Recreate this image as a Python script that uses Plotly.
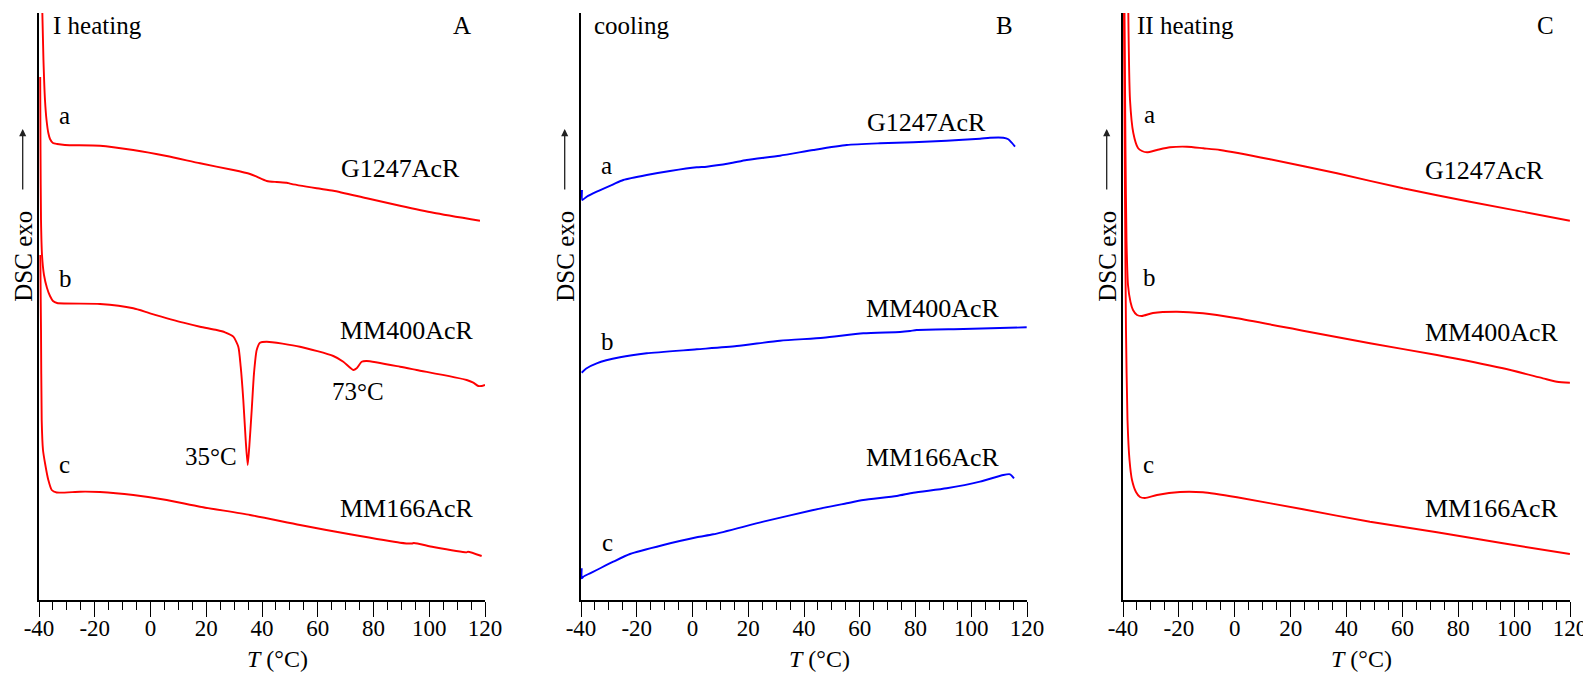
import plotly.graph_objects as go

# ---------------- data (T in °C, DSC signal in arbitrary units) ----------------
# Panel A - I heating
A_a_T = [-38.8, -38.4, -37.85, -37.3, -36.65, -36.05, -35.0, -33.5, -30.7, -18.1, -6.2, 5.8, 17.8,
         29.7, 35.7, 38.1, 41.7, 45.3, 48.9, 50.0, 59.6, 65.6, 77.6, 89.5, 101.5, 118.2]
A_a_y = [587, 540, 500, 480, 467, 461, 457, 456, 455, 454.3, 450, 444, 436.7,
         430, 426, 423.3, 419, 418, 417.3, 416.3, 411.7, 409.3, 401.7, 394.3, 387.3, 379.3]

A_b_T = [-39.57, -39.46, -39.28, -38.92, -38.21, -37.13, -36.05, -34.98, -33.54, -18.12, -6.17, -0.18,
         11.77, 17.76, 23.75, 26.73, 29.71, 31.5, 32.36, 33.29, 34.15, 34.87, 35.44, 36.31, 37.13,
         38.1, 39.28, 41.69, 53.63, 65.58, 69.17, 72.75, 73.97, 75.76, 77.56, 89.51, 95.49, 113.44,
         115.8, 117.6, 118.8, 120.0]
A_b_y = [523, 450, 380, 345, 325, 312, 304, 299, 297, 296, 291.7, 286.7,
         277.3, 273.3, 270, 267.7, 263.3, 253.3, 233.3, 200, 160, 135, 153.3, 190, 226.7,
         250, 257.3, 258.3, 253.3, 244, 238.3, 230, 231.7, 238.3, 239, 233.3, 230, 220,
         217.3, 214, 214, 215]

A_c_T = [-39.53, -39.28, -39.03, -38.57, -37.85, -36.66, -35.44, -33.65, -25.29, -18.12, -6.17, 5.81,
         17.76, 35.7, 53.63, 71.57, 89.51, 93.8, 94.5, 101.45, 113.44, 113.9, 118.8]
A_c_y = [345, 270, 180, 150, 137, 120, 110, 107.5, 108.3, 108, 105, 100,
         93.3, 85, 75, 65.7, 57.3, 56.5, 57.0, 53, 47.7, 48.3, 44]

# Panel B - cooling
B_a_T = [-39.64, -39.53, -37.96, -34.37, -28.41, -24.83, -16.43, -8.07, 1.51, 5.09, 13.45, 19.44,
         31.39, 43.34, 55.32, 67.26, 79.21, 91.19, 103.14, 106.73, 111.5, 113.29, 114.51, 115.7]
B_a_y = [410, 400, 403.3, 408.3, 415.7, 420, 425, 429, 432.7, 433.3, 436.7, 440,
         444.3, 450, 455, 456.7, 457.7, 459.3, 461.3, 462.3, 462.3, 460.7, 457.3, 453.3]

B_b_T = [-39.75, -37.96, -34.37, -26.01, -16.43, 1.51, 15.86, 31.39, 46.92, 61.27, 74.44, 78.03,
         80.43, 97.15, 119.89]
B_b_y = [227.3, 231.7, 236.7, 242.7, 246.7, 250.7, 254, 259.3, 262.3, 266.7, 268, 269,
         270, 271, 272.7]

B_c_T = [-39.75, -39.75, -39.17, -36.77, -34.37, -28.41, -22.42, -10.47, 1.51, 7.46, 25.4, 43.34,
         55.32, 61.27, 73.26, 79.21, 91.19, 103.14, 111.5, 113.9, 115.34]
B_c_y = [31.7, 21.7, 23.3, 26.7, 30, 38.3, 46, 55, 62.7, 65.7, 78.3, 90,
         96.7, 100, 104, 107.3, 111.7, 118.3, 125, 125.7, 121.7]

# Panel C - II heating
C_a_T = [-38.1, -37.49, -36.31, -34.63, -33.2, -31.41, -27.83, -23.18, -17.09, -11.26, -5.28, 12.61,
         36.59, 60.21, 84.18, 119.96]
C_a_y = [587, 500, 467, 452, 449, 447.7, 450, 452.7, 453.3, 451.7, 450, 440.7,
         426.7, 411.7, 398.3, 379.3]

C_b_T = [-39.46, -39.11, -38.75, -38.21, -37.32, -36.42, -34.99, -33.2, -29.26, -20.67, -11.37, 0.8,
         24.42, 48.4, 72.38, 96.0, 110.31, 115.32, 119.96]
C_b_y = [587, 450, 360, 315, 298, 290, 285, 284, 287, 288.3, 286.7, 281.7,
         269.3, 256.7, 245, 231.7, 221.7, 218.3, 217.3]

C_c_T = [-39.64, -39.28, -38.93, -38.39, -37.67, -36.78, -35.35, -33.92, -32.13, -27.83, -19.6, -11.37,
         0.8, 24.42, 48.4, 72.38, 96.0, 119.96]
C_c_y = [587, 400, 270, 180, 140, 120, 108, 103, 102, 105, 108, 107.7,
         102.7, 90.7, 78.3, 67.7, 56.7, 46]

X_TICKS = [-40, -20, 0, 20, 40, 60, 80, 100, 120]
X_TICK_TEXT = ["-40", "-20", "0", "20", "40", "60", "80", "100", "120"]
SAMPLES = ["G1247AcR", "MM400AcR", "MM166AcR"]
CURVE_LETTERS = ["a", "b", "c"]
PANEL_TITLES = ["I heating", "cooling", "II heating"]
PANEL_LETTERS = ["A", "B", "C"]

# ---------------- figure ----------------
FONT = "Liberation Serif, Times New Roman, serif"
OFF = 8                      # page body margin
W, H = 1591 - OFF, 675 - OFF
TOP, BOT = 13 - OFF, 600 - OFF   # plot area rows in figure pixels
PH = BOT - TOP
RED = "#ff0000"
BLUE = "#0000ff"

fig = go.Figure()

panels = [
    ("x", "y", RED, [(A_a_T, A_a_y), (A_b_T, A_b_y), (A_c_T, A_c_y)]),
    ("x2", "y2", BLUE, [(B_a_T, B_a_y), (B_b_T, B_b_y), (B_c_T, B_c_y)]),
    ("x3", "y3", RED, [(C_a_T, C_a_y), (C_b_T, C_b_y), (C_c_T, C_c_y)]),
]
for xa, ya, col, curves in panels:
    for (t, v), name in zip(curves, SAMPLES):
        fig.add_trace(go.Scatter(x=t, y=v, mode="lines", xaxis=xa, yaxis=ya, name=name,
                                 line=dict(color=col, width=1.9, shape="spline", smoothing=0.6),
                                 showlegend=False, hoverinfo="skip"))

panel_px = [(39, 485), (581, 1027), (1123, 1570)]
layout_axes = {}
for i, (p0, p1) in enumerate(panel_px):
    sfx = "" if i == 0 else str(i + 1)
    layout_axes["xaxis" + sfx] = dict(
        domain=[(p0 - OFF) / W, (p1 - OFF) / W], anchor="y" + sfx, range=[-40, 120],
        tickmode="array", tickvals=X_TICKS, ticktext=X_TICK_TEXT,
        ticks="outside", ticklen=15, tickwidth=1.3, tickcolor="black",
        minor=dict(dtick=5, tick0=-40, ticks="outside", ticklen=8, tickwidth=1.3, tickcolor="black"),
        showline=True, linecolor="black", linewidth=1.5,
        showgrid=False, zeroline=False, automargin=False,
        ticklabelstandoff=-8,
        tickfont=dict(family=FONT, size=23, color="black"),
    )
    layout_axes["yaxis" + sfx] = dict(
        domain=[0, 1], anchor="x" + sfx, range=[0, 587],
        showline=True, linecolor="black", linewidth=2,
        showticklabels=False, ticks="", showgrid=False, zeroline=False, automargin=False,
    )

annotations = []
def txt(xref, yref, x, y, s, size=25, xanchor="center"):
    annotations.append(dict(x=x, y=y, xref=xref, yref=yref, text=s, showarrow=False,
                            xanchor=xanchor, yanchor="middle",
                            font=dict(family=FONT, size=size, color="black")))

axis_refs = [("x", "y"), ("x2", "y2"), ("x3", "y3")]
# panel headers
title_left = [-35.7, -36.05, -35.7]
letter_x = [111.75, 111.75, 111.4]
for (xr, yr), t, lx, pt, pl in zip(axis_refs, title_left, letter_x, PANEL_TITLES, PANEL_LETTERS):
    txt(xr, yr, t, 575, pt, xanchor="left")
    txt(xr, yr, lx, 575, pl)

# curve letters and sample names
letter_pos = [
    [(-31.03, 485), (-30.67, 322), (-31.03, 136)],
    [(-31.03, 435), (-30.67, 259), (-30.67, 58)],
    [(-30.69, 486), (-30.69, 323), (-31.05, 136)],
]
name_pos = [
    [(89.51, 431.5), (92.02, 270), (92.02, 92)],
    [(83.77, 478), (86.28, 292), (86.28, 143)],
    [(89.56, 430), (92.07, 268), (92.07, 92)],
]
for (xr, yr), lp, npos in zip(axis_refs, letter_pos, name_pos):
    for (lxv, lyv), letter in zip(lp, CURVE_LETTERS):
        txt(xr, yr, lxv, lyv, letter)
    for (nx, ny), name in zip(npos, SAMPLES):
        txt(xr, yr, nx, ny, name, size=26)

# peak temperatures in panel A
txt("x", "y", 21.7, 144, "35°C")
txt("x", "y", 74.44, 209, "73°C")

# x-axis titles and y-axis titles "DSC exo" with upward arrow
for (p0, p1) in panel_px:
    annotations.append(dict(x=((p0 + p1) / 2 + 15 - OFF) / W, y=(BOT - (659 - OFF)) / PH,
                            xref="paper", yref="paper", text="<i>T</i> (°C)", showarrow=False,
                            xanchor="center", yanchor="middle",
                            font=dict(family=FONT, size=24, color="black")))
    xp = (p0 - 16.3 - OFF) / W
    annotations.append(dict(x=xp, y=(BOT - (256 - OFF)) / PH, xref="paper", yref="paper",
                            text="DSC exo", showarrow=False, textangle=-90,
                            xanchor="center", yanchor="middle",
                            font=dict(family=FONT, size=25, color="black")))
    annotations.append(dict(x=xp, y=(BOT - (129 - OFF)) / PH, xref="paper", yref="paper", text="",
                            showarrow=True, ax=0, ay=62, axref="pixel", ayref="pixel",
                            arrowhead=2, arrowsize=1.1, arrowwidth=1.3, arrowcolor="#222"))

fig.update_layout(width=W, height=H, margin=dict(l=0, r=0, t=TOP, b=H - BOT, autoexpand=False),
                  paper_bgcolor="white", plot_bgcolor="white", template="none",
                  annotations=annotations, **layout_axes)

fig.write_html("out.html")
